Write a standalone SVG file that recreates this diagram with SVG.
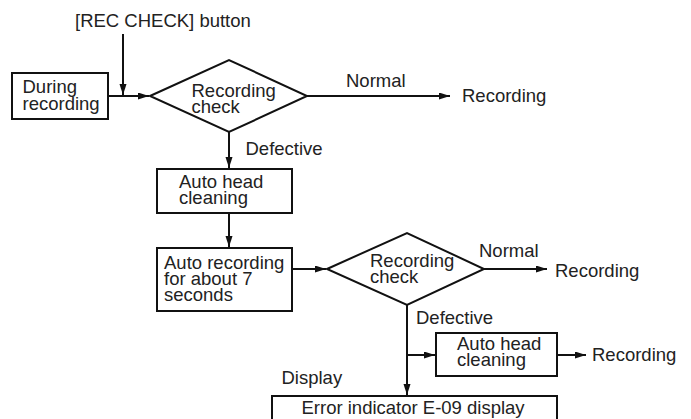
<svg xmlns="http://www.w3.org/2000/svg" width="691" height="419" viewBox="0 0 691 419">
<style>
text{font-family:"Liberation Sans",Arial,sans-serif;font-size:18.5px;fill:#222}
.box{fill:#fff;stroke:#111;stroke-width:2}
.ln{fill:none;stroke:#111;stroke-width:2}
.arr{fill:none;stroke:#111;stroke-width:2;marker-end:url(#ah)}
</style>
<defs>
<marker id="ah" markerUnits="userSpaceOnUse" markerWidth="12" markerHeight="8" refX="11" refY="3.5" orient="auto" viewBox="0 0 12 8">
<path d="M0,0 L11,3.5 L0,7 z" fill="#111"/>
</marker>
</defs>
<rect width="691" height="419" fill="#fff"/>
<g id="connectors">
<line class="arr" x1="123" y1="34" x2="123" y2="95"/>
<line class="arr" x1="108" y1="96" x2="149" y2="96"/>
<line class="arr" x1="307" y1="96" x2="450" y2="96"/>
<line class="arr" x1="229" y1="132" x2="229" y2="168"/>
<line class="arr" x1="229" y1="213" x2="229" y2="247"/>
<line class="arr" x1="292" y1="269" x2="326" y2="269"/>
<line class="arr" x1="484" y1="269" x2="547" y2="269"/>
<line class="arr" x1="407" y1="305" x2="407" y2="395"/>
<line class="arr" x1="407" y1="355" x2="435" y2="355"/>
<line class="arr" x1="557" y1="355" x2="586" y2="355"/>
</g>
<g id="label-button"><text x="75" y="27">[REC CHECK] button</text></g>
<g id="during">
<rect class="box" x="12" y="73" width="96" height="46"/>
<text x="22.5" y="93">During</text>
<text x="22.5" y="110">recording</text>
</g>
<g id="check1">
<polygon class="box" points="150,96 229,60 307,96 229,132"/>
<text x="191.5" y="96.5">Recording</text>
<text x="191.5" y="113">check</text>
</g>
<g id="normal1"><text x="346" y="87">Normal</text></g>
<g id="rec1"><text x="462" y="102">Recording</text></g>
<g id="defective1"><text x="245.5" y="155">Defective</text></g>
<g id="clean1">
<rect class="box" x="157" y="169" width="135" height="44"/>
<text x="179" y="187.5">Auto head</text>
<text x="179" y="203.5">cleaning</text>
</g>
<g id="autorec">
<rect class="box" x="157" y="248" width="135" height="63"/>
<text x="164" y="269">Auto recording</text>
<text x="164" y="285">for about 7</text>
<text x="164" y="301">seconds</text>
</g>
<g id="check2">
<polygon class="box" points="327,269 407,233 484,269 407,305"/>
<text x="370" y="266.5">Recording</text>
<text x="370" y="283">check</text>
</g>
<g id="normal2"><text x="479" y="257">Normal</text></g>
<g id="rec2"><text x="555" y="277">Recording</text></g>
<g id="defective2"><text x="416" y="324">Defective</text></g>
<g id="clean2">
<rect class="box" x="436" y="333" width="121" height="43"/>
<text x="457" y="350">Auto head</text>
<text x="457" y="366">cleaning</text>
</g>
<g id="rec3"><text x="592" y="361">Recording</text></g>
<g id="display-label"><text x="281.5" y="383.5">Display</text></g>
<g id="error">
<rect class="box" x="272" y="396" width="285" height="40"/>
<text x="301.5" y="414">Error indicator E-09 display</text>
</g>
</svg>
